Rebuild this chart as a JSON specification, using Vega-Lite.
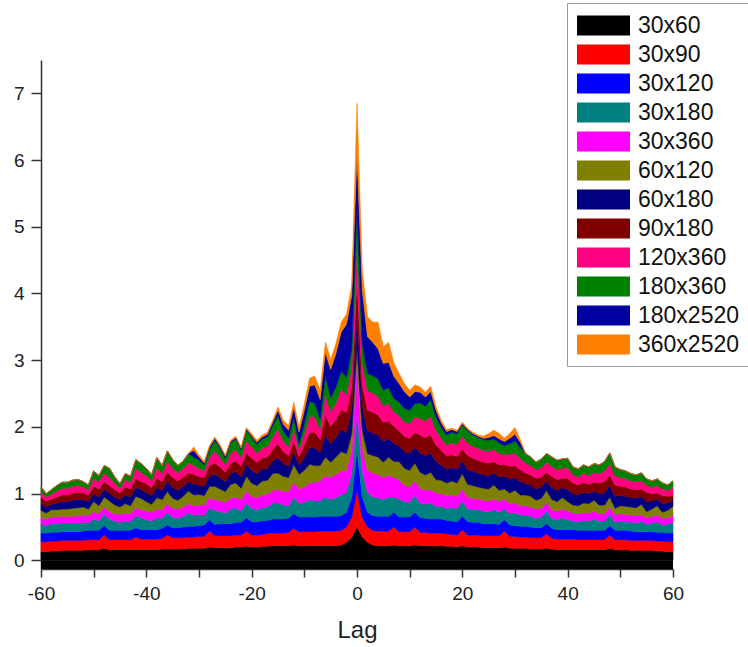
{
"$schema": "https://vega.github.io/schema/vega-lite/v6.json",
"width": 632, "height": 509,
"autosize": {"type": "none"},
"padding": {"left": 41, "top": 60, "right": 75, "bottom": 78},
"background": "white",
"config": {"view": {"stroke": null}, "font": "Liberation Sans"},
"datasets": {
"ranks": [{"series":"30x60","rank":1},{"series":"30x90","rank":2},{"series":"30x120","rank":3},{"series":"30x180","rank":4},{"series":"30x360","rank":5},{"series":"60x120","rank":6},{"series":"60x180","rank":7},{"series":"90x180","rank":8},{"series":"120x360","rank":9},{"series":"180x360","rank":10},{"series":"180x2520","rank":11},{"series":"360x2520","rank":12}],
"acf": [
{"lag":-60,"series":"30x60","value":0.13},{"lag":-59,"series":"30x60","value":0.13},{"lag":-58,"series":"30x60","value":0.14},{"lag":-57,"series":"30x60","value":0.14},{"lag":-56,"series":"30x60","value":0.15},{"lag":-55,"series":"30x60","value":0.15},{"lag":-54,"series":"30x60","value":0.15},{"lag":-53,"series":"30x60","value":0.15},{"lag":-52,"series":"30x60","value":0.15},{"lag":-51,"series":"30x60","value":0.16},{"lag":-50,"series":"30x60","value":0.16},{"lag":-49,"series":"30x60","value":0.16},{"lag":-48,"series":"30x60","value":0.18},{"lag":-47,"series":"30x60","value":0.16},{"lag":-46,"series":"30x60","value":0.16},{"lag":-45,"series":"30x60","value":0.16},{"lag":-44,"series":"30x60","value":0.16},{"lag":-43,"series":"30x60","value":0.16},{"lag":-42,"series":"30x60","value":0.16},{"lag":-41,"series":"30x60","value":0.16},{"lag":-40,"series":"30x60","value":0.16},{"lag":-39,"series":"30x60","value":0.16},{"lag":-38,"series":"30x60","value":0.16},{"lag":-37,"series":"30x60","value":0.17},{"lag":-36,"series":"30x60","value":0.17},{"lag":-35,"series":"30x60","value":0.17},{"lag":-34,"series":"30x60","value":0.17},{"lag":-33,"series":"30x60","value":0.17},{"lag":-32,"series":"30x60","value":0.18},{"lag":-31,"series":"30x60","value":0.18},{"lag":-30,"series":"30x60","value":0.18},{"lag":-29,"series":"30x60","value":0.18},{"lag":-28,"series":"30x60","value":0.2},{"lag":-27,"series":"30x60","value":0.19},{"lag":-26,"series":"30x60","value":0.19},{"lag":-25,"series":"30x60","value":0.19},{"lag":-24,"series":"30x60","value":0.19},{"lag":-23,"series":"30x60","value":0.2},{"lag":-22,"series":"30x60","value":0.2},{"lag":-21,"series":"30x60","value":0.21},{"lag":-20,"series":"30x60","value":0.2},{"lag":-19,"series":"30x60","value":0.2},{"lag":-18,"series":"30x60","value":0.21},{"lag":-17,"series":"30x60","value":0.21},{"lag":-16,"series":"30x60","value":0.22},{"lag":-15,"series":"30x60","value":0.22},{"lag":-14,"series":"30x60","value":0.22},{"lag":-13,"series":"30x60","value":0.22},{"lag":-12,"series":"30x60","value":0.23},{"lag":-11,"series":"30x60","value":0.22},{"lag":-10,"series":"30x60","value":0.22},{"lag":-9,"series":"30x60","value":0.22},{"lag":-8,"series":"30x60","value":0.22},{"lag":-7,"series":"30x60","value":0.22},{"lag":-6,"series":"30x60","value":0.22},{"lag":-5,"series":"30x60","value":0.22},{"lag":-4,"series":"30x60","value":0.22},{"lag":-3,"series":"30x60","value":0.23},{"lag":-2,"series":"30x60","value":0.27},{"lag":-1,"series":"30x60","value":0.35},{"lag":0,"series":"30x60","value":0.5},{"lag":1,"series":"30x60","value":0.35},{"lag":2,"series":"30x60","value":0.27},{"lag":3,"series":"30x60","value":0.23},{"lag":4,"series":"30x60","value":0.22},{"lag":5,"series":"30x60","value":0.22},{"lag":6,"series":"30x60","value":0.22},{"lag":7,"series":"30x60","value":0.23},{"lag":8,"series":"30x60","value":0.22},{"lag":9,"series":"30x60","value":0.22},{"lag":10,"series":"30x60","value":0.22},{"lag":11,"series":"30x60","value":0.23},{"lag":12,"series":"30x60","value":0.22},{"lag":13,"series":"30x60","value":0.22},{"lag":14,"series":"30x60","value":0.22},{"lag":15,"series":"30x60","value":0.22},{"lag":16,"series":"30x60","value":0.22},{"lag":17,"series":"30x60","value":0.21},{"lag":18,"series":"30x60","value":0.21},{"lag":19,"series":"30x60","value":0.2},{"lag":20,"series":"30x60","value":0.22},{"lag":21,"series":"30x60","value":0.2},{"lag":22,"series":"30x60","value":0.2},{"lag":23,"series":"30x60","value":0.2},{"lag":24,"series":"30x60","value":0.19},{"lag":25,"series":"30x60","value":0.19},{"lag":26,"series":"30x60","value":0.19},{"lag":27,"series":"30x60","value":0.19},{"lag":28,"series":"30x60","value":0.2},{"lag":29,"series":"30x60","value":0.18},{"lag":30,"series":"30x60","value":0.18},{"lag":31,"series":"30x60","value":0.18},{"lag":32,"series":"30x60","value":0.18},{"lag":33,"series":"30x60","value":0.17},{"lag":34,"series":"30x60","value":0.17},{"lag":35,"series":"30x60","value":0.17},{"lag":36,"series":"30x60","value":0.18},{"lag":37,"series":"30x60","value":0.17},{"lag":38,"series":"30x60","value":0.16},{"lag":39,"series":"30x60","value":0.16},{"lag":40,"series":"30x60","value":0.16},{"lag":41,"series":"30x60","value":0.16},{"lag":42,"series":"30x60","value":0.16},{"lag":43,"series":"30x60","value":0.16},{"lag":44,"series":"30x60","value":0.16},{"lag":45,"series":"30x60","value":0.16},{"lag":46,"series":"30x60","value":0.16},{"lag":47,"series":"30x60","value":0.16},{"lag":48,"series":"30x60","value":0.18},{"lag":49,"series":"30x60","value":0.16},{"lag":50,"series":"30x60","value":0.16},{"lag":51,"series":"30x60","value":0.16},{"lag":52,"series":"30x60","value":0.15},{"lag":53,"series":"30x60","value":0.15},{"lag":54,"series":"30x60","value":0.15},{"lag":55,"series":"30x60","value":0.15},{"lag":56,"series":"30x60","value":0.15},{"lag":57,"series":"30x60","value":0.14},{"lag":58,"series":"30x60","value":0.14},{"lag":59,"series":"30x60","value":0.13},{"lag":60,"series":"30x60","value":0.13},
{"lag":-60,"series":"30x90","value":0.15},{"lag":-59,"series":"30x90","value":0.15},{"lag":-58,"series":"30x90","value":0.15},{"lag":-57,"series":"30x90","value":0.15},{"lag":-56,"series":"30x90","value":0.15},{"lag":-55,"series":"30x90","value":0.15},{"lag":-54,"series":"30x90","value":0.15},{"lag":-53,"series":"30x90","value":0.15},{"lag":-52,"series":"30x90","value":0.15},{"lag":-51,"series":"30x90","value":0.15},{"lag":-50,"series":"30x90","value":0.15},{"lag":-49,"series":"30x90","value":0.15},{"lag":-48,"series":"30x90","value":0.2},{"lag":-47,"series":"30x90","value":0.15},{"lag":-46,"series":"30x90","value":0.15},{"lag":-45,"series":"30x90","value":0.15},{"lag":-44,"series":"30x90","value":0.15},{"lag":-43,"series":"30x90","value":0.15},{"lag":-42,"series":"30x90","value":0.19},{"lag":-41,"series":"30x90","value":0.16},{"lag":-40,"series":"30x90","value":0.16},{"lag":-39,"series":"30x90","value":0.16},{"lag":-38,"series":"30x90","value":0.16},{"lag":-37,"series":"30x90","value":0.16},{"lag":-36,"series":"30x90","value":0.21},{"lag":-35,"series":"30x90","value":0.17},{"lag":-34,"series":"30x90","value":0.17},{"lag":-33,"series":"30x90","value":0.17},{"lag":-32,"series":"30x90","value":0.17},{"lag":-31,"series":"30x90","value":0.17},{"lag":-30,"series":"30x90","value":0.18},{"lag":-29,"series":"30x90","value":0.18},{"lag":-28,"series":"30x90","value":0.24},{"lag":-27,"series":"30x90","value":0.18},{"lag":-26,"series":"30x90","value":0.18},{"lag":-25,"series":"30x90","value":0.18},{"lag":-24,"series":"30x90","value":0.18},{"lag":-23,"series":"30x90","value":0.18},{"lag":-22,"series":"30x90","value":0.18},{"lag":-21,"series":"30x90","value":0.23},{"lag":-20,"series":"30x90","value":0.18},{"lag":-19,"series":"30x90","value":0.18},{"lag":-18,"series":"30x90","value":0.18},{"lag":-17,"series":"30x90","value":0.19},{"lag":-16,"series":"30x90","value":0.19},{"lag":-15,"series":"30x90","value":0.19},{"lag":-14,"series":"30x90","value":0.19},{"lag":-13,"series":"30x90","value":0.2},{"lag":-12,"series":"30x90","value":0.25},{"lag":-11,"series":"30x90","value":0.21},{"lag":-10,"series":"30x90","value":0.21},{"lag":-9,"series":"30x90","value":0.21},{"lag":-8,"series":"30x90","value":0.21},{"lag":-7,"series":"30x90","value":0.22},{"lag":-6,"series":"30x90","value":0.22},{"lag":-5,"series":"30x90","value":0.22},{"lag":-4,"series":"30x90","value":0.22},{"lag":-3,"series":"30x90","value":0.22},{"lag":-2,"series":"30x90","value":0.23},{"lag":-1,"series":"30x90","value":0.3},{"lag":0,"series":"30x90","value":0.55},{"lag":1,"series":"30x90","value":0.3},{"lag":2,"series":"30x90","value":0.23},{"lag":3,"series":"30x90","value":0.22},{"lag":4,"series":"30x90","value":0.22},{"lag":5,"series":"30x90","value":0.22},{"lag":6,"series":"30x90","value":0.22},{"lag":7,"series":"30x90","value":0.27},{"lag":8,"series":"30x90","value":0.21},{"lag":9,"series":"30x90","value":0.21},{"lag":10,"series":"30x90","value":0.21},{"lag":11,"series":"30x90","value":0.27},{"lag":12,"series":"30x90","value":0.2},{"lag":13,"series":"30x90","value":0.2},{"lag":14,"series":"30x90","value":0.19},{"lag":15,"series":"30x90","value":0.19},{"lag":16,"series":"30x90","value":0.19},{"lag":17,"series":"30x90","value":0.19},{"lag":18,"series":"30x90","value":0.18},{"lag":19,"series":"30x90","value":0.18},{"lag":20,"series":"30x90","value":0.24},{"lag":21,"series":"30x90","value":0.18},{"lag":22,"series":"30x90","value":0.18},{"lag":23,"series":"30x90","value":0.18},{"lag":24,"series":"30x90","value":0.18},{"lag":25,"series":"30x90","value":0.18},{"lag":26,"series":"30x90","value":0.18},{"lag":27,"series":"30x90","value":0.18},{"lag":28,"series":"30x90","value":0.24},{"lag":29,"series":"30x90","value":0.18},{"lag":30,"series":"30x90","value":0.18},{"lag":31,"series":"30x90","value":0.17},{"lag":32,"series":"30x90","value":0.17},{"lag":33,"series":"30x90","value":0.17},{"lag":34,"series":"30x90","value":0.17},{"lag":35,"series":"30x90","value":0.17},{"lag":36,"series":"30x90","value":0.22},{"lag":37,"series":"30x90","value":0.16},{"lag":38,"series":"30x90","value":0.16},{"lag":39,"series":"30x90","value":0.16},{"lag":40,"series":"30x90","value":0.16},{"lag":41,"series":"30x90","value":0.16},{"lag":42,"series":"30x90","value":0.15},{"lag":43,"series":"30x90","value":0.15},{"lag":44,"series":"30x90","value":0.15},{"lag":45,"series":"30x90","value":0.15},{"lag":46,"series":"30x90","value":0.15},{"lag":47,"series":"30x90","value":0.15},{"lag":48,"series":"30x90","value":0.2},{"lag":49,"series":"30x90","value":0.15},{"lag":50,"series":"30x90","value":0.15},{"lag":51,"series":"30x90","value":0.15},{"lag":52,"series":"30x90","value":0.15},{"lag":53,"series":"30x90","value":0.15},{"lag":54,"series":"30x90","value":0.15},{"lag":55,"series":"30x90","value":0.15},{"lag":56,"series":"30x90","value":0.15},{"lag":57,"series":"30x90","value":0.15},{"lag":58,"series":"30x90","value":0.15},{"lag":59,"series":"30x90","value":0.15},{"lag":60,"series":"30x90","value":0.15},
{"lag":-60,"series":"30x120","value":0.13},{"lag":-59,"series":"30x120","value":0.13},{"lag":-58,"series":"30x120","value":0.13},{"lag":-57,"series":"30x120","value":0.13},{"lag":-56,"series":"30x120","value":0.13},{"lag":-55,"series":"30x120","value":0.13},{"lag":-54,"series":"30x120","value":0.13},{"lag":-53,"series":"30x120","value":0.13},{"lag":-52,"series":"30x120","value":0.14},{"lag":-51,"series":"30x120","value":0.14},{"lag":-50,"series":"30x120","value":0.14},{"lag":-49,"series":"30x120","value":0.14},{"lag":-48,"series":"30x120","value":0.14},{"lag":-47,"series":"30x120","value":0.14},{"lag":-46,"series":"30x120","value":0.14},{"lag":-45,"series":"30x120","value":0.14},{"lag":-44,"series":"30x120","value":0.14},{"lag":-43,"series":"30x120","value":0.14},{"lag":-42,"series":"30x120","value":0.14},{"lag":-41,"series":"30x120","value":0.14},{"lag":-40,"series":"30x120","value":0.14},{"lag":-39,"series":"30x120","value":0.14},{"lag":-38,"series":"30x120","value":0.14},{"lag":-37,"series":"30x120","value":0.15},{"lag":-36,"series":"30x120","value":0.15},{"lag":-35,"series":"30x120","value":0.15},{"lag":-34,"series":"30x120","value":0.15},{"lag":-33,"series":"30x120","value":0.16},{"lag":-32,"series":"30x120","value":0.16},{"lag":-31,"series":"30x120","value":0.16},{"lag":-30,"series":"30x120","value":0.16},{"lag":-29,"series":"30x120","value":0.17},{"lag":-28,"series":"30x120","value":0.17},{"lag":-27,"series":"30x120","value":0.17},{"lag":-26,"series":"30x120","value":0.18},{"lag":-25,"series":"30x120","value":0.18},{"lag":-24,"series":"30x120","value":0.18},{"lag":-23,"series":"30x120","value":0.19},{"lag":-22,"series":"30x120","value":0.19},{"lag":-21,"series":"30x120","value":0.2},{"lag":-20,"series":"30x120","value":0.2},{"lag":-19,"series":"30x120","value":0.2},{"lag":-18,"series":"30x120","value":0.2},{"lag":-17,"series":"30x120","value":0.2},{"lag":-16,"series":"30x120","value":0.21},{"lag":-15,"series":"30x120","value":0.21},{"lag":-14,"series":"30x120","value":0.21},{"lag":-13,"series":"30x120","value":0.21},{"lag":-12,"series":"30x120","value":0.22},{"lag":-11,"series":"30x120","value":0.22},{"lag":-10,"series":"30x120","value":0.22},{"lag":-9,"series":"30x120","value":0.22},{"lag":-8,"series":"30x120","value":0.22},{"lag":-7,"series":"30x120","value":0.22},{"lag":-6,"series":"30x120","value":0.22},{"lag":-5,"series":"30x120","value":0.22},{"lag":-4,"series":"30x120","value":0.22},{"lag":-3,"series":"30x120","value":0.22},{"lag":-2,"series":"30x120","value":0.22},{"lag":-1,"series":"30x120","value":0.3},{"lag":0,"series":"30x120","value":0.6},{"lag":1,"series":"30x120","value":0.3},{"lag":2,"series":"30x120","value":0.22},{"lag":3,"series":"30x120","value":0.22},{"lag":4,"series":"30x120","value":0.22},{"lag":5,"series":"30x120","value":0.22},{"lag":6,"series":"30x120","value":0.22},{"lag":7,"series":"30x120","value":0.22},{"lag":8,"series":"30x120","value":0.22},{"lag":9,"series":"30x120","value":0.22},{"lag":10,"series":"30x120","value":0.22},{"lag":11,"series":"30x120","value":0.22},{"lag":12,"series":"30x120","value":0.22},{"lag":13,"series":"30x120","value":0.21},{"lag":14,"series":"30x120","value":0.21},{"lag":15,"series":"30x120","value":0.21},{"lag":16,"series":"30x120","value":0.21},{"lag":17,"series":"30x120","value":0.2},{"lag":18,"series":"30x120","value":0.2},{"lag":19,"series":"30x120","value":0.2},{"lag":20,"series":"30x120","value":0.2},{"lag":21,"series":"30x120","value":0.2},{"lag":22,"series":"30x120","value":0.19},{"lag":23,"series":"30x120","value":0.19},{"lag":24,"series":"30x120","value":0.18},{"lag":25,"series":"30x120","value":0.18},{"lag":26,"series":"30x120","value":0.18},{"lag":27,"series":"30x120","value":0.17},{"lag":28,"series":"30x120","value":0.17},{"lag":29,"series":"30x120","value":0.17},{"lag":30,"series":"30x120","value":0.16},{"lag":31,"series":"30x120","value":0.16},{"lag":32,"series":"30x120","value":0.16},{"lag":33,"series":"30x120","value":0.16},{"lag":34,"series":"30x120","value":0.15},{"lag":35,"series":"30x120","value":0.15},{"lag":36,"series":"30x120","value":0.15},{"lag":37,"series":"30x120","value":0.15},{"lag":38,"series":"30x120","value":0.14},{"lag":39,"series":"30x120","value":0.14},{"lag":40,"series":"30x120","value":0.14},{"lag":41,"series":"30x120","value":0.14},{"lag":42,"series":"30x120","value":0.14},{"lag":43,"series":"30x120","value":0.14},{"lag":44,"series":"30x120","value":0.14},{"lag":45,"series":"30x120","value":0.14},{"lag":46,"series":"30x120","value":0.14},{"lag":47,"series":"30x120","value":0.14},{"lag":48,"series":"30x120","value":0.14},{"lag":49,"series":"30x120","value":0.14},{"lag":50,"series":"30x120","value":0.14},{"lag":51,"series":"30x120","value":0.14},{"lag":52,"series":"30x120","value":0.14},{"lag":53,"series":"30x120","value":0.13},{"lag":54,"series":"30x120","value":0.13},{"lag":55,"series":"30x120","value":0.13},{"lag":56,"series":"30x120","value":0.13},{"lag":57,"series":"30x120","value":0.13},{"lag":58,"series":"30x120","value":0.13},{"lag":59,"series":"30x120","value":0.13},{"lag":60,"series":"30x120","value":0.13},
{"lag":-60,"series":"30x180","value":0.13},{"lag":-59,"series":"30x180","value":0.11},{"lag":-58,"series":"30x180","value":0.13},{"lag":-57,"series":"30x180","value":0.13},{"lag":-56,"series":"30x180","value":0.13},{"lag":-55,"series":"30x180","value":0.13},{"lag":-54,"series":"30x180","value":0.13},{"lag":-53,"series":"30x180","value":0.13},{"lag":-52,"series":"30x180","value":0.13},{"lag":-51,"series":"30x180","value":0.11},{"lag":-50,"series":"30x180","value":0.17},{"lag":-49,"series":"30x180","value":0.14},{"lag":-48,"series":"30x180","value":0.17},{"lag":-47,"series":"30x180","value":0.17},{"lag":-46,"series":"30x180","value":0.14},{"lag":-45,"series":"30x180","value":0.12},{"lag":-44,"series":"30x180","value":0.14},{"lag":-43,"series":"30x180","value":0.13},{"lag":-42,"series":"30x180","value":0.18},{"lag":-41,"series":"30x180","value":0.18},{"lag":-40,"series":"30x180","value":0.15},{"lag":-39,"series":"30x180","value":0.13},{"lag":-38,"series":"30x180","value":0.18},{"lag":-37,"series":"30x180","value":0.15},{"lag":-36,"series":"30x180","value":0.19},{"lag":-35,"series":"30x180","value":0.16},{"lag":-34,"series":"30x180","value":0.14},{"lag":-33,"series":"30x180","value":0.16},{"lag":-32,"series":"30x180","value":0.2},{"lag":-31,"series":"30x180","value":0.17},{"lag":-30,"series":"30x180","value":0.17},{"lag":-29,"series":"30x180","value":0.15},{"lag":-28,"series":"30x180","value":0.18},{"lag":-27,"series":"30x180","value":0.21},{"lag":-26,"series":"30x180","value":0.18},{"lag":-25,"series":"30x180","value":0.16},{"lag":-24,"series":"30x180","value":0.22},{"lag":-23,"series":"30x180","value":0.22},{"lag":-22,"series":"30x180","value":0.17},{"lag":-21,"series":"30x180","value":0.22},{"lag":-20,"series":"30x180","value":0.2},{"lag":-19,"series":"30x180","value":0.18},{"lag":-18,"series":"30x180","value":0.2},{"lag":-17,"series":"30x180","value":0.2},{"lag":-16,"series":"30x180","value":0.24},{"lag":-15,"series":"30x180","value":0.24},{"lag":-14,"series":"30x180","value":0.21},{"lag":-13,"series":"30x180","value":0.19},{"lag":-12,"series":"30x180","value":0.25},{"lag":-11,"series":"30x180","value":0.2},{"lag":-10,"series":"30x180","value":0.22},{"lag":-9,"series":"30x180","value":0.26},{"lag":-8,"series":"30x180","value":0.24},{"lag":-7,"series":"30x180","value":0.23},{"lag":-6,"series":"30x180","value":0.29},{"lag":-5,"series":"30x180","value":0.25},{"lag":-4,"series":"30x180","value":0.28},{"lag":-3,"series":"30x180","value":0.31},{"lag":-2,"series":"30x180","value":0.3},{"lag":-1,"series":"30x180","value":0.35},{"lag":0,"series":"30x180","value":0.55},{"lag":1,"series":"30x180","value":0.38},{"lag":2,"series":"30x180","value":0.3},{"lag":3,"series":"30x180","value":0.28},{"lag":4,"series":"30x180","value":0.28},{"lag":5,"series":"30x180","value":0.25},{"lag":6,"series":"30x180","value":0.29},{"lag":7,"series":"30x180","value":0.23},{"lag":8,"series":"30x180","value":0.27},{"lag":9,"series":"30x180","value":0.23},{"lag":10,"series":"30x180","value":0.22},{"lag":11,"series":"30x180","value":0.25},{"lag":12,"series":"30x180","value":0.22},{"lag":13,"series":"30x180","value":0.21},{"lag":14,"series":"30x180","value":0.24},{"lag":15,"series":"30x180","value":0.19},{"lag":16,"series":"30x180","value":0.19},{"lag":17,"series":"30x180","value":0.18},{"lag":18,"series":"30x180","value":0.2},{"lag":19,"series":"30x180","value":0.2},{"lag":20,"series":"30x180","value":0.23},{"lag":21,"series":"30x180","value":0.19},{"lag":22,"series":"30x180","value":0.19},{"lag":23,"series":"30x180","value":0.19},{"lag":24,"series":"30x180","value":0.19},{"lag":25,"series":"30x180","value":0.18},{"lag":26,"series":"30x180","value":0.21},{"lag":27,"series":"30x180","value":0.18},{"lag":28,"series":"30x180","value":0.16},{"lag":29,"series":"30x180","value":0.17},{"lag":30,"series":"30x180","value":0.2},{"lag":31,"series":"30x180","value":0.17},{"lag":32,"series":"30x180","value":0.17},{"lag":33,"series":"30x180","value":0.16},{"lag":34,"series":"30x180","value":0.14},{"lag":35,"series":"30x180","value":0.16},{"lag":36,"series":"30x180","value":0.19},{"lag":37,"series":"30x180","value":0.15},{"lag":38,"series":"30x180","value":0.15},{"lag":39,"series":"30x180","value":0.18},{"lag":40,"series":"30x180","value":0.15},{"lag":41,"series":"30x180","value":0.13},{"lag":42,"series":"30x180","value":0.13},{"lag":43,"series":"30x180","value":0.15},{"lag":44,"series":"30x180","value":0.14},{"lag":45,"series":"30x180","value":0.17},{"lag":46,"series":"30x180","value":0.14},{"lag":47,"series":"30x180","value":0.14},{"lag":48,"series":"30x180","value":0.17},{"lag":49,"series":"30x180","value":0.12},{"lag":50,"series":"30x180","value":0.14},{"lag":51,"series":"30x180","value":0.13},{"lag":52,"series":"30x180","value":0.13},{"lag":53,"series":"30x180","value":0.13},{"lag":54,"series":"30x180","value":0.16},{"lag":55,"series":"30x180","value":0.11},{"lag":56,"series":"30x180","value":0.13},{"lag":57,"series":"30x180","value":0.16},{"lag":58,"series":"30x180","value":0.11},{"lag":59,"series":"30x180","value":0.13},{"lag":60,"series":"30x180","value":0.16},
{"lag":-60,"series":"30x360","value":0.1},{"lag":-59,"series":"30x360","value":0.1},{"lag":-58,"series":"30x360","value":0.1},{"lag":-57,"series":"30x360","value":0.1},{"lag":-56,"series":"30x360","value":0.1},{"lag":-55,"series":"30x360","value":0.1},{"lag":-54,"series":"30x360","value":0.1},{"lag":-53,"series":"30x360","value":0.11},{"lag":-52,"series":"30x360","value":0.11},{"lag":-51,"series":"30x360","value":0.11},{"lag":-50,"series":"30x360","value":0.11},{"lag":-49,"series":"30x360","value":0.11},{"lag":-48,"series":"30x360","value":0.11},{"lag":-47,"series":"30x360","value":0.11},{"lag":-46,"series":"30x360","value":0.11},{"lag":-45,"series":"30x360","value":0.12},{"lag":-44,"series":"30x360","value":0.12},{"lag":-43,"series":"30x360","value":0.12},{"lag":-42,"series":"30x360","value":0.12},{"lag":-41,"series":"30x360","value":0.12},{"lag":-40,"series":"30x360","value":0.13},{"lag":-39,"series":"30x360","value":0.13},{"lag":-38,"series":"30x360","value":0.13},{"lag":-37,"series":"30x360","value":0.13},{"lag":-36,"series":"30x360","value":0.13},{"lag":-35,"series":"30x360","value":0.13},{"lag":-34,"series":"30x360","value":0.14},{"lag":-33,"series":"30x360","value":0.14},{"lag":-32,"series":"30x360","value":0.14},{"lag":-31,"series":"30x360","value":0.14},{"lag":-30,"series":"30x360","value":0.14},{"lag":-29,"series":"30x360","value":0.15},{"lag":-28,"series":"30x360","value":0.15},{"lag":-27,"series":"30x360","value":0.16},{"lag":-26,"series":"30x360","value":0.16},{"lag":-25,"series":"30x360","value":0.16},{"lag":-24,"series":"30x360","value":0.16},{"lag":-23,"series":"30x360","value":0.16},{"lag":-22,"series":"30x360","value":0.17},{"lag":-21,"series":"30x360","value":0.18},{"lag":-20,"series":"30x360","value":0.18},{"lag":-19,"series":"30x360","value":0.18},{"lag":-18,"series":"30x360","value":0.19},{"lag":-17,"series":"30x360","value":0.19},{"lag":-16,"series":"30x360","value":0.19},{"lag":-15,"series":"30x360","value":0.2},{"lag":-14,"series":"30x360","value":0.2},{"lag":-13,"series":"30x360","value":0.21},{"lag":-12,"series":"30x360","value":0.22},{"lag":-11,"series":"30x360","value":0.22},{"lag":-10,"series":"30x360","value":0.23},{"lag":-9,"series":"30x360","value":0.25},{"lag":-8,"series":"30x360","value":0.28},{"lag":-7,"series":"30x360","value":0.3},{"lag":-6,"series":"30x360","value":0.32},{"lag":-5,"series":"30x360","value":0.33},{"lag":-4,"series":"30x360","value":0.35},{"lag":-3,"series":"30x360","value":0.36},{"lag":-2,"series":"30x360","value":0.33},{"lag":-1,"series":"30x360","value":0.35},{"lag":0,"series":"30x360","value":0.8},{"lag":1,"series":"30x360","value":0.35},{"lag":2,"series":"30x360","value":0.33},{"lag":3,"series":"30x360","value":0.36},{"lag":4,"series":"30x360","value":0.35},{"lag":5,"series":"30x360","value":0.33},{"lag":6,"series":"30x360","value":0.32},{"lag":7,"series":"30x360","value":0.3},{"lag":8,"series":"30x360","value":0.28},{"lag":9,"series":"30x360","value":0.25},{"lag":10,"series":"30x360","value":0.23},{"lag":11,"series":"30x360","value":0.22},{"lag":12,"series":"30x360","value":0.22},{"lag":13,"series":"30x360","value":0.21},{"lag":14,"series":"30x360","value":0.2},{"lag":15,"series":"30x360","value":0.2},{"lag":16,"series":"30x360","value":0.19},{"lag":17,"series":"30x360","value":0.19},{"lag":18,"series":"30x360","value":0.19},{"lag":19,"series":"30x360","value":0.18},{"lag":20,"series":"30x360","value":0.18},{"lag":21,"series":"30x360","value":0.18},{"lag":22,"series":"30x360","value":0.17},{"lag":23,"series":"30x360","value":0.16},{"lag":24,"series":"30x360","value":0.16},{"lag":25,"series":"30x360","value":0.16},{"lag":26,"series":"30x360","value":0.16},{"lag":27,"series":"30x360","value":0.16},{"lag":28,"series":"30x360","value":0.15},{"lag":29,"series":"30x360","value":0.15},{"lag":30,"series":"30x360","value":0.14},{"lag":31,"series":"30x360","value":0.14},{"lag":32,"series":"30x360","value":0.14},{"lag":33,"series":"30x360","value":0.14},{"lag":34,"series":"30x360","value":0.14},{"lag":35,"series":"30x360","value":0.13},{"lag":36,"series":"30x360","value":0.13},{"lag":37,"series":"30x360","value":0.13},{"lag":38,"series":"30x360","value":0.13},{"lag":39,"series":"30x360","value":0.13},{"lag":40,"series":"30x360","value":0.13},{"lag":41,"series":"30x360","value":0.12},{"lag":42,"series":"30x360","value":0.12},{"lag":43,"series":"30x360","value":0.12},{"lag":44,"series":"30x360","value":0.12},{"lag":45,"series":"30x360","value":0.12},{"lag":46,"series":"30x360","value":0.11},{"lag":47,"series":"30x360","value":0.11},{"lag":48,"series":"30x360","value":0.11},{"lag":49,"series":"30x360","value":0.11},{"lag":50,"series":"30x360","value":0.11},{"lag":51,"series":"30x360","value":0.11},{"lag":52,"series":"30x360","value":0.11},{"lag":53,"series":"30x360","value":0.11},{"lag":54,"series":"30x360","value":0.1},{"lag":55,"series":"30x360","value":0.1},{"lag":56,"series":"30x360","value":0.1},{"lag":57,"series":"30x360","value":0.1},{"lag":58,"series":"30x360","value":0.1},{"lag":59,"series":"30x360","value":0.1},{"lag":60,"series":"30x360","value":0.1},
{"lag":-60,"series":"60x120","value":0.11},{"lag":-59,"series":"60x120","value":0.09},{"lag":-58,"series":"60x120","value":0.11},{"lag":-57,"series":"60x120","value":0.11},{"lag":-56,"series":"60x120","value":0.11},{"lag":-55,"series":"60x120","value":0.11},{"lag":-54,"series":"60x120","value":0.12},{"lag":-53,"series":"60x120","value":0.12},{"lag":-52,"series":"60x120","value":0.12},{"lag":-51,"series":"60x120","value":0.1},{"lag":-50,"series":"60x120","value":0.15},{"lag":-49,"series":"60x120","value":0.12},{"lag":-48,"series":"60x120","value":0.15},{"lag":-47,"series":"60x120","value":0.16},{"lag":-46,"series":"60x120","value":0.13},{"lag":-45,"series":"60x120","value":0.11},{"lag":-44,"series":"60x120","value":0.14},{"lag":-43,"series":"60x120","value":0.12},{"lag":-42,"series":"60x120","value":0.17},{"lag":-41,"series":"60x120","value":0.17},{"lag":-40,"series":"60x120","value":0.14},{"lag":-39,"series":"60x120","value":0.12},{"lag":-38,"series":"60x120","value":0.17},{"lag":-37,"series":"60x120","value":0.15},{"lag":-36,"series":"60x120","value":0.18},{"lag":-35,"series":"60x120","value":0.15},{"lag":-34,"series":"60x120","value":0.13},{"lag":-33,"series":"60x120","value":0.16},{"lag":-32,"series":"60x120","value":0.19},{"lag":-31,"series":"60x120","value":0.16},{"lag":-30,"series":"60x120","value":0.16},{"lag":-29,"series":"60x120","value":0.14},{"lag":-28,"series":"60x120","value":0.17},{"lag":-27,"series":"60x120","value":0.2},{"lag":-26,"series":"60x120","value":0.18},{"lag":-25,"series":"60x120","value":0.16},{"lag":-24,"series":"60x120","value":0.21},{"lag":-23,"series":"60x120","value":0.21},{"lag":-22,"series":"60x120","value":0.17},{"lag":-21,"series":"60x120","value":0.22},{"lag":-20,"series":"60x120","value":0.2},{"lag":-19,"series":"60x120","value":0.18},{"lag":-18,"series":"60x120","value":0.21},{"lag":-17,"series":"60x120","value":0.21},{"lag":-16,"series":"60x120","value":0.25},{"lag":-15,"series":"60x120","value":0.25},{"lag":-14,"series":"60x120","value":0.23},{"lag":-13,"series":"60x120","value":0.21},{"lag":-12,"series":"60x120","value":0.27},{"lag":-11,"series":"60x120","value":0.22},{"lag":-10,"series":"60x120","value":0.25},{"lag":-9,"series":"60x120","value":0.28},{"lag":-8,"series":"60x120","value":0.25},{"lag":-7,"series":"60x120","value":0.23},{"lag":-6,"series":"60x120","value":0.28},{"lag":-5,"series":"60x120","value":0.23},{"lag":-4,"series":"60x120","value":0.26},{"lag":-3,"series":"60x120","value":0.29},{"lag":-2,"series":"60x120","value":0.25},{"lag":-1,"series":"60x120","value":0.25},{"lag":0,"series":"60x120","value":0.2},{"lag":1,"series":"60x120","value":0.28},{"lag":2,"series":"60x120","value":0.25},{"lag":3,"series":"60x120","value":0.26},{"lag":4,"series":"60x120","value":0.26},{"lag":5,"series":"60x120","value":0.23},{"lag":6,"series":"60x120","value":0.28},{"lag":7,"series":"60x120","value":0.23},{"lag":8,"series":"60x120","value":0.28},{"lag":9,"series":"60x120","value":0.25},{"lag":10,"series":"60x120","value":0.25},{"lag":11,"series":"60x120","value":0.27},{"lag":12,"series":"60x120","value":0.24},{"lag":13,"series":"60x120","value":0.23},{"lag":14,"series":"60x120","value":0.26},{"lag":15,"series":"60x120","value":0.2},{"lag":16,"series":"60x120","value":0.2},{"lag":17,"series":"60x120","value":0.19},{"lag":18,"series":"60x120","value":0.21},{"lag":19,"series":"60x120","value":0.2},{"lag":20,"series":"60x120","value":0.23},{"lag":21,"series":"60x120","value":0.19},{"lag":22,"series":"60x120","value":0.19},{"lag":23,"series":"60x120","value":0.18},{"lag":24,"series":"60x120","value":0.18},{"lag":25,"series":"60x120","value":0.18},{"lag":26,"series":"60x120","value":0.21},{"lag":27,"series":"60x120","value":0.17},{"lag":28,"series":"60x120","value":0.15},{"lag":29,"series":"60x120","value":0.16},{"lag":30,"series":"60x120","value":0.19},{"lag":31,"series":"60x120","value":0.16},{"lag":32,"series":"60x120","value":0.16},{"lag":33,"series":"60x120","value":0.16},{"lag":34,"series":"60x120","value":0.13},{"lag":35,"series":"60x120","value":0.15},{"lag":36,"series":"60x120","value":0.18},{"lag":37,"series":"60x120","value":0.15},{"lag":38,"series":"60x120","value":0.14},{"lag":39,"series":"60x120","value":0.17},{"lag":40,"series":"60x120","value":0.14},{"lag":41,"series":"60x120","value":0.12},{"lag":42,"series":"60x120","value":0.12},{"lag":43,"series":"60x120","value":0.14},{"lag":44,"series":"60x120","value":0.14},{"lag":45,"series":"60x120","value":0.16},{"lag":46,"series":"60x120","value":0.13},{"lag":47,"series":"60x120","value":0.13},{"lag":48,"series":"60x120","value":0.15},{"lag":49,"series":"60x120","value":0.1},{"lag":50,"series":"60x120","value":0.12},{"lag":51,"series":"60x120","value":0.12},{"lag":52,"series":"60x120","value":0.12},{"lag":53,"series":"60x120","value":0.12},{"lag":54,"series":"60x120","value":0.15},{"lag":55,"series":"60x120","value":0.09},{"lag":56,"series":"60x120","value":0.11},{"lag":57,"series":"60x120","value":0.14},{"lag":58,"series":"60x120","value":0.09},{"lag":59,"series":"60x120","value":0.11},{"lag":60,"series":"60x120","value":0.14},
{"lag":-60,"series":"60x180","value":0.1},{"lag":-59,"series":"60x180","value":0.09},{"lag":-58,"series":"60x180","value":0.08},{"lag":-57,"series":"60x180","value":0.1},{"lag":-56,"series":"60x180","value":0.11},{"lag":-55,"series":"60x180","value":0.11},{"lag":-54,"series":"60x180","value":0.12},{"lag":-53,"series":"60x180","value":0.12},{"lag":-52,"series":"60x180","value":0.11},{"lag":-51,"series":"60x180","value":0.11},{"lag":-50,"series":"60x180","value":0.12},{"lag":-49,"series":"60x180","value":0.13},{"lag":-48,"series":"60x180","value":0.12},{"lag":-47,"series":"60x180","value":0.12},{"lag":-46,"series":"60x180","value":0.12},{"lag":-45,"series":"60x180","value":0.11},{"lag":-44,"series":"60x180","value":0.13},{"lag":-43,"series":"60x180","value":0.13},{"lag":-42,"series":"60x180","value":0.14},{"lag":-41,"series":"60x180","value":0.13},{"lag":-40,"series":"60x180","value":0.14},{"lag":-39,"series":"60x180","value":0.13},{"lag":-38,"series":"60x180","value":0.15},{"lag":-37,"series":"60x180","value":0.14},{"lag":-36,"series":"60x180","value":0.16},{"lag":-35,"series":"60x180","value":0.16},{"lag":-34,"series":"60x180","value":0.15},{"lag":-33,"series":"60x180","value":0.15},{"lag":-32,"series":"60x180","value":0.14},{"lag":-31,"series":"60x180","value":0.16},{"lag":-30,"series":"60x180","value":0.14},{"lag":-29,"series":"60x180","value":0.14},{"lag":-28,"series":"60x180","value":0.16},{"lag":-27,"series":"60x180","value":0.18},{"lag":-26,"series":"60x180","value":0.17},{"lag":-25,"series":"60x180","value":0.15},{"lag":-24,"series":"60x180","value":0.16},{"lag":-23,"series":"60x180","value":0.17},{"lag":-22,"series":"60x180","value":0.17},{"lag":-21,"series":"60x180","value":0.18},{"lag":-20,"series":"60x180","value":0.19},{"lag":-19,"series":"60x180","value":0.18},{"lag":-18,"series":"60x180","value":0.18},{"lag":-17,"series":"60x180","value":0.18},{"lag":-16,"series":"60x180","value":0.19},{"lag":-15,"series":"60x180","value":0.23},{"lag":-14,"series":"60x180","value":0.19},{"lag":-13,"series":"60x180","value":0.17},{"lag":-12,"series":"60x180","value":0.18},{"lag":-11,"series":"60x180","value":0.14},{"lag":-10,"series":"60x180","value":0.2},{"lag":-9,"series":"60x180","value":0.25},{"lag":-8,"series":"60x180","value":0.26},{"lag":-7,"series":"60x180","value":0.2},{"lag":-6,"series":"60x180","value":0.33},{"lag":-5,"series":"60x180","value":0.28},{"lag":-4,"series":"60x180","value":0.29},{"lag":-3,"series":"60x180","value":0.33},{"lag":-2,"series":"60x180","value":0.32},{"lag":-1,"series":"60x180","value":0.36},{"lag":0,"series":"60x180","value":0.5},{"lag":1,"series":"60x180","value":0.35},{"lag":2,"series":"60x180","value":0.34},{"lag":3,"series":"60x180","value":0.34},{"lag":4,"series":"60x180","value":0.33},{"lag":5,"series":"60x180","value":0.31},{"lag":6,"series":"60x180","value":0.28},{"lag":7,"series":"60x180","value":0.27},{"lag":8,"series":"60x180","value":0.24},{"lag":9,"series":"60x180","value":0.25},{"lag":10,"series":"60x180","value":0.25},{"lag":11,"series":"60x180","value":0.24},{"lag":12,"series":"60x180","value":0.29},{"lag":13,"series":"60x180","value":0.29},{"lag":14,"series":"60x180","value":0.29},{"lag":15,"series":"60x180","value":0.27},{"lag":16,"series":"60x180","value":0.23},{"lag":17,"series":"60x180","value":0.21},{"lag":18,"series":"60x180","value":0.2},{"lag":19,"series":"60x180","value":0.21},{"lag":20,"series":"60x180","value":0.19},{"lag":21,"series":"60x180","value":0.22},{"lag":22,"series":"60x180","value":0.21},{"lag":23,"series":"60x180","value":0.21},{"lag":24,"series":"60x180","value":0.2},{"lag":25,"series":"60x180","value":0.2},{"lag":26,"series":"60x180","value":0.18},{"lag":27,"series":"60x180","value":0.2},{"lag":28,"series":"60x180","value":0.19},{"lag":29,"series":"60x180","value":0.21},{"lag":30,"series":"60x180","value":0.19},{"lag":31,"series":"60x180","value":0.2},{"lag":32,"series":"60x180","value":0.17},{"lag":33,"series":"60x180","value":0.17},{"lag":34,"series":"60x180","value":0.17},{"lag":35,"series":"60x180","value":0.17},{"lag":36,"series":"60x180","value":0.14},{"lag":37,"series":"60x180","value":0.18},{"lag":38,"series":"60x180","value":0.17},{"lag":39,"series":"60x180","value":0.15},{"lag":40,"series":"60x180","value":0.18},{"lag":41,"series":"60x180","value":0.17},{"lag":42,"series":"60x180","value":0.16},{"lag":43,"series":"60x180","value":0.16},{"lag":44,"series":"60x180","value":0.15},{"lag":45,"series":"60x180","value":0.14},{"lag":46,"series":"60x180","value":0.17},{"lag":47,"series":"60x180","value":0.18},{"lag":48,"series":"60x180","value":0.17},{"lag":49,"series":"60x180","value":0.18},{"lag":50,"series":"60x180","value":0.15},{"lag":51,"series":"60x180","value":0.15},{"lag":52,"series":"60x180","value":0.14},{"lag":53,"series":"60x180","value":0.14},{"lag":54,"series":"60x180","value":0.12},{"lag":55,"series":"60x180","value":0.15},{"lag":56,"series":"60x180","value":0.12},{"lag":57,"series":"60x180","value":0.1},{"lag":58,"series":"60x180","value":0.13},{"lag":59,"series":"60x180","value":0.11},{"lag":60,"series":"60x180","value":0.09},
{"lag":-60,"series":"90x180","value":0.09},{"lag":-59,"series":"90x180","value":0.09},{"lag":-58,"series":"90x180","value":0.08},{"lag":-57,"series":"90x180","value":0.09},{"lag":-56,"series":"90x180","value":0.1},{"lag":-55,"series":"90x180","value":0.1},{"lag":-54,"series":"90x180","value":0.11},{"lag":-53,"series":"90x180","value":0.11},{"lag":-52,"series":"90x180","value":0.1},{"lag":-51,"series":"90x180","value":0.1},{"lag":-50,"series":"90x180","value":0.11},{"lag":-49,"series":"90x180","value":0.12},{"lag":-48,"series":"90x180","value":0.11},{"lag":-47,"series":"90x180","value":0.11},{"lag":-46,"series":"90x180","value":0.11},{"lag":-45,"series":"90x180","value":0.1},{"lag":-44,"series":"90x180","value":0.12},{"lag":-43,"series":"90x180","value":0.12},{"lag":-42,"series":"90x180","value":0.13},{"lag":-41,"series":"90x180","value":0.12},{"lag":-40,"series":"90x180","value":0.13},{"lag":-39,"series":"90x180","value":0.12},{"lag":-38,"series":"90x180","value":0.14},{"lag":-37,"series":"90x180","value":0.13},{"lag":-36,"series":"90x180","value":0.14},{"lag":-35,"series":"90x180","value":0.15},{"lag":-34,"series":"90x180","value":0.14},{"lag":-33,"series":"90x180","value":0.14},{"lag":-32,"series":"90x180","value":0.13},{"lag":-31,"series":"90x180","value":0.15},{"lag":-30,"series":"90x180","value":0.13},{"lag":-29,"series":"90x180","value":0.13},{"lag":-28,"series":"90x180","value":0.15},{"lag":-27,"series":"90x180","value":0.17},{"lag":-26,"series":"90x180","value":0.16},{"lag":-25,"series":"90x180","value":0.14},{"lag":-24,"series":"90x180","value":0.15},{"lag":-23,"series":"90x180","value":0.16},{"lag":-22,"series":"90x180","value":0.16},{"lag":-21,"series":"90x180","value":0.17},{"lag":-20,"series":"90x180","value":0.18},{"lag":-19,"series":"90x180","value":0.17},{"lag":-18,"series":"90x180","value":0.16},{"lag":-17,"series":"90x180","value":0.17},{"lag":-16,"series":"90x180","value":0.17},{"lag":-15,"series":"90x180","value":0.21},{"lag":-14,"series":"90x180","value":0.18},{"lag":-13,"series":"90x180","value":0.16},{"lag":-12,"series":"90x180","value":0.17},{"lag":-11,"series":"90x180","value":0.13},{"lag":-10,"series":"90x180","value":0.18},{"lag":-9,"series":"90x180","value":0.23},{"lag":-8,"series":"90x180","value":0.24},{"lag":-7,"series":"90x180","value":0.19},{"lag":-6,"series":"90x180","value":0.3},{"lag":-5,"series":"90x180","value":0.26},{"lag":-4,"series":"90x180","value":0.27},{"lag":-3,"series":"90x180","value":0.3},{"lag":-2,"series":"90x180","value":0.3},{"lag":-1,"series":"90x180","value":0.33},{"lag":0,"series":"90x180","value":0.5},{"lag":1,"series":"90x180","value":0.32},{"lag":2,"series":"90x180","value":0.31},{"lag":3,"series":"90x180","value":0.31},{"lag":4,"series":"90x180","value":0.3},{"lag":5,"series":"90x180","value":0.29},{"lag":6,"series":"90x180","value":0.26},{"lag":7,"series":"90x180","value":0.26},{"lag":8,"series":"90x180","value":0.22},{"lag":9,"series":"90x180","value":0.23},{"lag":10,"series":"90x180","value":0.23},{"lag":11,"series":"90x180","value":0.22},{"lag":12,"series":"90x180","value":0.27},{"lag":13,"series":"90x180","value":0.27},{"lag":14,"series":"90x180","value":0.27},{"lag":15,"series":"90x180","value":0.25},{"lag":16,"series":"90x180","value":0.22},{"lag":17,"series":"90x180","value":0.2},{"lag":18,"series":"90x180","value":0.19},{"lag":19,"series":"90x180","value":0.19},{"lag":20,"series":"90x180","value":0.18},{"lag":21,"series":"90x180","value":0.21},{"lag":22,"series":"90x180","value":0.2},{"lag":23,"series":"90x180","value":0.19},{"lag":24,"series":"90x180","value":0.19},{"lag":25,"series":"90x180","value":0.19},{"lag":26,"series":"90x180","value":0.17},{"lag":27,"series":"90x180","value":0.18},{"lag":28,"series":"90x180","value":0.18},{"lag":29,"series":"90x180","value":0.19},{"lag":30,"series":"90x180","value":0.18},{"lag":31,"series":"90x180","value":0.18},{"lag":32,"series":"90x180","value":0.16},{"lag":33,"series":"90x180","value":0.15},{"lag":34,"series":"90x180","value":0.16},{"lag":35,"series":"90x180","value":0.15},{"lag":36,"series":"90x180","value":0.13},{"lag":37,"series":"90x180","value":0.17},{"lag":38,"series":"90x180","value":0.16},{"lag":39,"series":"90x180","value":0.14},{"lag":40,"series":"90x180","value":0.17},{"lag":41,"series":"90x180","value":0.16},{"lag":42,"series":"90x180","value":0.15},{"lag":43,"series":"90x180","value":0.15},{"lag":44,"series":"90x180","value":0.14},{"lag":45,"series":"90x180","value":0.13},{"lag":46,"series":"90x180","value":0.16},{"lag":47,"series":"90x180","value":0.17},{"lag":48,"series":"90x180","value":0.16},{"lag":49,"series":"90x180","value":0.17},{"lag":50,"series":"90x180","value":0.14},{"lag":51,"series":"90x180","value":0.14},{"lag":52,"series":"90x180","value":0.13},{"lag":53,"series":"90x180","value":0.13},{"lag":54,"series":"90x180","value":0.11},{"lag":55,"series":"90x180","value":0.14},{"lag":56,"series":"90x180","value":0.11},{"lag":57,"series":"90x180","value":0.09},{"lag":58,"series":"90x180","value":0.12},{"lag":59,"series":"90x180","value":0.1},{"lag":60,"series":"90x180","value":0.08},
{"lag":-60,"series":"120x360","value":0.08},{"lag":-59,"series":"120x360","value":0.06},{"lag":-58,"series":"120x360","value":0.07},{"lag":-57,"series":"120x360","value":0.09},{"lag":-56,"series":"120x360","value":0.1},{"lag":-55,"series":"120x360","value":0.1},{"lag":-54,"series":"120x360","value":0.1},{"lag":-53,"series":"120x360","value":0.1},{"lag":-52,"series":"120x360","value":0.09},{"lag":-51,"series":"120x360","value":0.08},{"lag":-50,"series":"120x360","value":0.12},{"lag":-49,"series":"120x360","value":0.11},{"lag":-48,"series":"120x360","value":0.13},{"lag":-47,"series":"120x360","value":0.13},{"lag":-46,"series":"120x360","value":0.1},{"lag":-45,"series":"120x360","value":0.07},{"lag":-44,"series":"120x360","value":0.11},{"lag":-43,"series":"120x360","value":0.1},{"lag":-42,"series":"120x360","value":0.15},{"lag":-41,"series":"120x360","value":0.14},{"lag":-40,"series":"120x360","value":0.12},{"lag":-39,"series":"120x360","value":0.1},{"lag":-38,"series":"120x360","value":0.16},{"lag":-37,"series":"120x360","value":0.12},{"lag":-36,"series":"120x360","value":0.16},{"lag":-35,"series":"120x360","value":0.14},{"lag":-34,"series":"120x360","value":0.12},{"lag":-33,"series":"120x360","value":0.13},{"lag":-32,"series":"120x360","value":0.15},{"lag":-31,"series":"120x360","value":0.14},{"lag":-30,"series":"120x360","value":0.12},{"lag":-29,"series":"120x360","value":0.1},{"lag":-28,"series":"120x360","value":0.13},{"lag":-27,"series":"120x360","value":0.18},{"lag":-26,"series":"120x360","value":0.15},{"lag":-25,"series":"120x360","value":0.11},{"lag":-24,"series":"120x360","value":0.16},{"lag":-23,"series":"120x360","value":0.17},{"lag":-22,"series":"120x360","value":0.13},{"lag":-21,"series":"120x360","value":0.18},{"lag":-20,"series":"120x360","value":0.17},{"lag":-19,"series":"120x360","value":0.14},{"lag":-18,"series":"120x360","value":0.15},{"lag":-17,"series":"120x360","value":0.16},{"lag":-16,"series":"120x360","value":0.19},{"lag":-15,"series":"120x360","value":0.22},{"lag":-14,"series":"120x360","value":0.16},{"lag":-13,"series":"120x360","value":0.13},{"lag":-12,"series":"120x360","value":0.18},{"lag":-11,"series":"120x360","value":0.1},{"lag":-10,"series":"120x360","value":0.17},{"lag":-9,"series":"120x360","value":0.24},{"lag":-8,"series":"120x360","value":0.23},{"lag":-7,"series":"120x360","value":0.16},{"lag":-6,"series":"120x360","value":0.31},{"lag":-5,"series":"120x360","value":0.22},{"lag":-4,"series":"120x360","value":0.25},{"lag":-3,"series":"120x360","value":0.3},{"lag":-2,"series":"120x360","value":0.27},{"lag":-1,"series":"120x360","value":0.3},{"lag":0,"series":"120x360","value":0.5},{"lag":1,"series":"120x360","value":0.32},{"lag":2,"series":"120x360","value":0.29},{"lag":3,"series":"120x360","value":0.29},{"lag":4,"series":"120x360","value":0.28},{"lag":5,"series":"120x360","value":0.25},{"lag":6,"series":"120x360","value":0.26},{"lag":7,"series":"120x360","value":0.22},{"lag":8,"series":"120x360","value":0.23},{"lag":9,"series":"120x360","value":0.22},{"lag":10,"series":"120x360","value":0.22},{"lag":11,"series":"120x360","value":0.23},{"lag":12,"series":"120x360","value":0.25},{"lag":13,"series":"120x360","value":0.25},{"lag":14,"series":"120x360","value":0.28},{"lag":15,"series":"120x360","value":0.22},{"lag":16,"series":"120x360","value":0.18},{"lag":17,"series":"120x360","value":0.16},{"lag":18,"series":"120x360","value":0.18},{"lag":19,"series":"120x360","value":0.18},{"lag":20,"series":"120x360","value":0.19},{"lag":21,"series":"120x360","value":0.19},{"lag":22,"series":"120x360","value":0.18},{"lag":23,"series":"120x360","value":0.18},{"lag":24,"series":"120x360","value":0.18},{"lag":25,"series":"120x360","value":0.18},{"lag":26,"series":"120x360","value":0.18},{"lag":27,"series":"120x360","value":0.17},{"lag":28,"series":"120x360","value":0.15},{"lag":29,"series":"120x360","value":0.18},{"lag":30,"series":"120x360","value":0.19},{"lag":31,"series":"120x360","value":0.17},{"lag":32,"series":"120x360","value":0.15},{"lag":33,"series":"120x360","value":0.14},{"lag":34,"series":"120x360","value":0.13},{"lag":35,"series":"120x360","value":0.14},{"lag":36,"series":"120x360","value":0.15},{"lag":37,"series":"120x360","value":0.15},{"lag":38,"series":"120x360","value":0.15},{"lag":39,"series":"120x360","value":0.15},{"lag":40,"series":"120x360","value":0.16},{"lag":41,"series":"120x360","value":0.13},{"lag":42,"series":"120x360","value":0.12},{"lag":43,"series":"120x360","value":0.14},{"lag":44,"series":"120x360","value":0.13},{"lag":45,"series":"120x360","value":0.15},{"lag":46,"series":"120x360","value":0.14},{"lag":47,"series":"120x360","value":0.16},{"lag":48,"series":"120x360","value":0.17},{"lag":49,"series":"120x360","value":0.14},{"lag":50,"series":"120x360","value":0.13},{"lag":51,"series":"120x360","value":0.13},{"lag":52,"series":"120x360","value":0.12},{"lag":53,"series":"120x360","value":0.12},{"lag":54,"series":"120x360","value":0.13},{"lag":55,"series":"120x360","value":0.11},{"lag":56,"series":"120x360","value":0.1},{"lag":57,"series":"120x360","value":0.11},{"lag":58,"series":"120x360","value":0.1},{"lag":59,"series":"120x360","value":0.09},{"lag":60,"series":"120x360","value":0.11},
{"lag":-60,"series":"180x360","value":0.08},{"lag":-59,"series":"180x360","value":0.05},{"lag":-58,"series":"180x360","value":0.07},{"lag":-57,"series":"180x360","value":0.08},{"lag":-56,"series":"180x360","value":0.09},{"lag":-55,"series":"180x360","value":0.09},{"lag":-54,"series":"180x360","value":0.09},{"lag":-53,"series":"180x360","value":0.09},{"lag":-52,"series":"180x360","value":0.08},{"lag":-51,"series":"180x360","value":0.07},{"lag":-50,"series":"180x360","value":0.11},{"lag":-49,"series":"180x360","value":0.09},{"lag":-48,"series":"180x360","value":0.11},{"lag":-47,"series":"180x360","value":0.13},{"lag":-46,"series":"180x360","value":0.09},{"lag":-45,"series":"180x360","value":0.07},{"lag":-44,"series":"180x360","value":0.09},{"lag":-43,"series":"180x360","value":0.09},{"lag":-42,"series":"180x360","value":0.13},{"lag":-41,"series":"180x360","value":0.13},{"lag":-40,"series":"180x360","value":0.11},{"lag":-39,"series":"180x360","value":0.09},{"lag":-38,"series":"180x360","value":0.15},{"lag":-37,"series":"180x360","value":0.12},{"lag":-36,"series":"180x360","value":0.15},{"lag":-35,"series":"180x360","value":0.13},{"lag":-34,"series":"180x360","value":0.11},{"lag":-33,"series":"180x360","value":0.11},{"lag":-32,"series":"180x360","value":0.14},{"lag":-31,"series":"180x360","value":0.12},{"lag":-30,"series":"180x360","value":0.12},{"lag":-29,"series":"180x360","value":0.09},{"lag":-28,"series":"180x360","value":0.12},{"lag":-27,"series":"180x360","value":0.16},{"lag":-26,"series":"180x360","value":0.13},{"lag":-25,"series":"180x360","value":0.1},{"lag":-24,"series":"180x360","value":0.15},{"lag":-23,"series":"180x360","value":0.16},{"lag":-22,"series":"180x360","value":0.12},{"lag":-21,"series":"180x360","value":0.16},{"lag":-20,"series":"180x360","value":0.15},{"lag":-19,"series":"180x360","value":0.13},{"lag":-18,"series":"180x360","value":0.14},{"lag":-17,"series":"180x360","value":0.14},{"lag":-16,"series":"180x360","value":0.17},{"lag":-15,"series":"180x360","value":0.2},{"lag":-14,"series":"180x360","value":0.15},{"lag":-13,"series":"180x360","value":0.13},{"lag":-12,"series":"180x360","value":0.17},{"lag":-11,"series":"180x360","value":0.09},{"lag":-10,"series":"180x360","value":0.15},{"lag":-9,"series":"180x360","value":0.22},{"lag":-8,"series":"180x360","value":0.21},{"lag":-7,"series":"180x360","value":0.14},{"lag":-6,"series":"180x360","value":0.28},{"lag":-5,"series":"180x360","value":0.21},{"lag":-4,"series":"180x360","value":0.24},{"lag":-3,"series":"180x360","value":0.28},{"lag":-2,"series":"180x360","value":0.25},{"lag":-1,"series":"180x360","value":0.28},{"lag":0,"series":"180x360","value":0.6},{"lag":1,"series":"180x360","value":0.3},{"lag":2,"series":"180x360","value":0.26},{"lag":3,"series":"180x360","value":0.26},{"lag":4,"series":"180x360","value":0.26},{"lag":5,"series":"180x360","value":0.23},{"lag":6,"series":"180x360","value":0.24},{"lag":7,"series":"180x360","value":0.2},{"lag":8,"series":"180x360","value":0.2},{"lag":9,"series":"180x360","value":0.2},{"lag":10,"series":"180x360","value":0.2},{"lag":11,"series":"180x360","value":0.2},{"lag":12,"series":"180x360","value":0.23},{"lag":13,"series":"180x360","value":0.22},{"lag":14,"series":"180x360","value":0.25},{"lag":15,"series":"180x360","value":0.2},{"lag":16,"series":"180x360","value":0.16},{"lag":17,"series":"180x360","value":0.15},{"lag":18,"series":"180x360","value":0.16},{"lag":19,"series":"180x360","value":0.16},{"lag":20,"series":"180x360","value":0.17},{"lag":21,"series":"180x360","value":0.18},{"lag":22,"series":"180x360","value":0.17},{"lag":23,"series":"180x360","value":0.16},{"lag":24,"series":"180x360","value":0.16},{"lag":25,"series":"180x360","value":0.16},{"lag":26,"series":"180x360","value":0.16},{"lag":27,"series":"180x360","value":0.16},{"lag":28,"series":"180x360","value":0.13},{"lag":29,"series":"180x360","value":0.16},{"lag":30,"series":"180x360","value":0.18},{"lag":31,"series":"180x360","value":0.16},{"lag":32,"series":"180x360","value":0.14},{"lag":33,"series":"180x360","value":0.13},{"lag":34,"series":"180x360","value":0.11},{"lag":35,"series":"180x360","value":0.13},{"lag":36,"series":"180x360","value":0.13},{"lag":37,"series":"180x360","value":0.14},{"lag":38,"series":"180x360","value":0.14},{"lag":39,"series":"180x360","value":0.14},{"lag":40,"series":"180x360","value":0.14},{"lag":41,"series":"180x360","value":0.11},{"lag":42,"series":"180x360","value":0.12},{"lag":43,"series":"180x360","value":0.12},{"lag":44,"series":"180x360","value":0.13},{"lag":45,"series":"180x360","value":0.13},{"lag":46,"series":"180x360","value":0.13},{"lag":47,"series":"180x360","value":0.14},{"lag":48,"series":"180x360","value":0.16},{"lag":49,"series":"180x360","value":0.13},{"lag":50,"series":"180x360","value":0.12},{"lag":51,"series":"180x360","value":0.11},{"lag":52,"series":"180x360","value":0.11},{"lag":53,"series":"180x360","value":0.1},{"lag":54,"series":"180x360","value":0.11},{"lag":55,"series":"180x360","value":0.09},{"lag":56,"series":"180x360","value":0.09},{"lag":57,"series":"180x360","value":0.1},{"lag":58,"series":"180x360","value":0.09},{"lag":59,"series":"180x360","value":0.08},{"lag":60,"series":"180x360","value":0.1},
{"lag":-31,"series":"180x2520","value":0.1},{"lag":-30,"series":"180x2520","value":0.05},{"lag":-29,"series":"180x2520","value":0.03},{"lag":-28,"series":"180x2520","value":0.03},{"lag":-27,"series":"180x2520","value":0.03},{"lag":-26,"series":"180x2520","value":0.03},{"lag":-25,"series":"180x2520","value":0.03},{"lag":-24,"series":"180x2520","value":0.02},{"lag":-23,"series":"180x2520","value":0.02},{"lag":-22,"series":"180x2520","value":0.02},{"lag":-21,"series":"180x2520","value":0.02},{"lag":-20,"series":"180x2520","value":0.02},{"lag":-19,"series":"180x2520","value":0.03},{"lag":-18,"series":"180x2520","value":0.03},{"lag":-17,"series":"180x2520","value":0.04},{"lag":-16,"series":"180x2520","value":0.05},{"lag":-15,"series":"180x2520","value":0.08},{"lag":-14,"series":"180x2520","value":0.1},{"lag":-13,"series":"180x2520","value":0.12},{"lag":-12,"series":"180x2520","value":0.15},{"lag":-11,"series":"180x2520","value":0.17},{"lag":-10,"series":"180x2520","value":0.2},{"lag":-9,"series":"180x2520","value":0.23},{"lag":-8,"series":"180x2520","value":0.27},{"lag":-7,"series":"180x2520","value":0.3},{"lag":-6,"series":"180x2520","value":0.35},{"lag":-5,"series":"180x2520","value":0.42},{"lag":-4,"series":"180x2520","value":0.5},{"lag":-3,"series":"180x2520","value":0.58},{"lag":-2,"series":"180x2520","value":0.8},{"lag":-1,"series":"180x2520","value":0.8},{"lag":0,"series":"180x2520","value":0.8},{"lag":1,"series":"180x2520","value":0.8},{"lag":2,"series":"180x2520","value":0.55},{"lag":3,"series":"180x2520","value":0.5},{"lag":4,"series":"180x2520","value":0.45},{"lag":5,"series":"180x2520","value":0.4},{"lag":6,"series":"180x2520","value":0.38},{"lag":7,"series":"180x2520","value":0.33},{"lag":8,"series":"180x2520","value":0.28},{"lag":9,"series":"180x2520","value":0.25},{"lag":10,"series":"180x2520","value":0.2},{"lag":11,"series":"180x2520","value":0.18},{"lag":12,"series":"180x2520","value":0.16},{"lag":13,"series":"180x2520","value":0.14},{"lag":14,"series":"180x2520","value":0.12},{"lag":15,"series":"180x2520","value":0.1},{"lag":16,"series":"180x2520","value":0.07},{"lag":17,"series":"180x2520","value":0.05},{"lag":18,"series":"180x2520","value":0.04},{"lag":19,"series":"180x2520","value":0.03},{"lag":20,"series":"180x2520","value":0.02},{"lag":21,"series":"180x2520","value":0.02},{"lag":22,"series":"180x2520","value":0.02},{"lag":23,"series":"180x2520","value":0.02},{"lag":24,"series":"180x2520","value":0.02},{"lag":25,"series":"180x2520","value":0.04},{"lag":26,"series":"180x2520","value":0.05},{"lag":27,"series":"180x2520","value":0.06},{"lag":28,"series":"180x2520","value":0.06},{"lag":29,"series":"180x2520","value":0.08},{"lag":30,"series":"180x2520","value":0.1},{"lag":31,"series":"180x2520","value":0.08},
{"lag":-31,"series":"360x2520","value":0.05},{"lag":-30,"series":"360x2520","value":0.03},{"lag":-29,"series":"360x2520","value":0.02},{"lag":-28,"series":"360x2520","value":0.02},{"lag":-27,"series":"360x2520","value":0.02},{"lag":-26,"series":"360x2520","value":0.02},{"lag":-25,"series":"360x2520","value":0.02},{"lag":-24,"series":"360x2520","value":0.02},{"lag":-23,"series":"360x2520","value":0.02},{"lag":-22,"series":"360x2520","value":0.02},{"lag":-21,"series":"360x2520","value":0.02},{"lag":-20,"series":"360x2520","value":0.03},{"lag":-19,"series":"360x2520","value":0.03},{"lag":-18,"series":"360x2520","value":0.03},{"lag":-17,"series":"360x2520","value":0.03},{"lag":-16,"series":"360x2520","value":0.03},{"lag":-15,"series":"360x2520","value":0.05},{"lag":-14,"series":"360x2520","value":0.06},{"lag":-13,"series":"360x2520","value":0.07},{"lag":-12,"series":"360x2520","value":0.08},{"lag":-11,"series":"360x2520","value":0.08},{"lag":-10,"series":"360x2520","value":0.1},{"lag":-9,"series":"360x2520","value":0.12},{"lag":-8,"series":"360x2520","value":0.13},{"lag":-7,"series":"360x2520","value":0.14},{"lag":-6,"series":"360x2520","value":0.15},{"lag":-5,"series":"360x2520","value":0.15},{"lag":-4,"series":"360x2520","value":0.15},{"lag":-3,"series":"360x2520","value":0.15},{"lag":-2,"series":"360x2520","value":0.15},{"lag":-1,"series":"360x2520","value":0.15},{"lag":0,"series":"360x2520","value":0.75},{"lag":1,"series":"360x2520","value":0.3},{"lag":2,"series":"360x2520","value":0.3},{"lag":3,"series":"360x2520","value":0.3},{"lag":4,"series":"360x2520","value":0.4},{"lag":5,"series":"360x2520","value":0.25},{"lag":6,"series":"360x2520","value":0.3},{"lag":7,"series":"360x2520","value":0.2},{"lag":8,"series":"360x2520","value":0.15},{"lag":9,"series":"360x2520","value":0.12},{"lag":10,"series":"360x2520","value":0.1},{"lag":11,"series":"360x2520","value":0.1},{"lag":12,"series":"360x2520","value":0.08},{"lag":13,"series":"360x2520","value":0.07},{"lag":14,"series":"360x2520","value":0.08},{"lag":15,"series":"360x2520","value":0.05},{"lag":16,"series":"360x2520","value":0.04},{"lag":17,"series":"360x2520","value":0.03},{"lag":18,"series":"360x2520","value":0.02},{"lag":19,"series":"360x2520","value":0.02},{"lag":20,"series":"360x2520","value":0.02},{"lag":21,"series":"360x2520","value":0.02},{"lag":22,"series":"360x2520","value":0.02},{"lag":23,"series":"360x2520","value":0.02},{"lag":24,"series":"360x2520","value":0.03},{"lag":25,"series":"360x2520","value":0.06},{"lag":26,"series":"360x2520","value":0.08},{"lag":27,"series":"360x2520","value":0.08},{"lag":28,"series":"360x2520","value":0.05},{"lag":29,"series":"360x2520","value":0.07},{"lag":30,"series":"360x2520","value":0.1},{"lag":31,"series":"360x2520","value":0.04}
]},
"layer": [
{
"data": {"name": "acf"},
"transform": [{"lookup": "series", "from": {"data": {"name": "ranks"}, "key": "series", "fields": ["rank"]}}],
"mark": {"type": "area", "opacity": 1, "strokeWidth": 0.6, "interpolate": "linear"},
"encoding": {
"x": {"field": "lag", "type": "quantitative", "scale": {"domain": [-60, 60], "nice": false, "zero": false},
 "axis": {"values": [-60,-50,-40,-30,-20,-10,0,10,20,30,40,50,60], "labelExpr": "datum.value % 20 === 0 ? '' + datum.value : ''", "title": "Lag", "titleFontSize": 24, "titleFont": "Liberation Sans", "titleFontWeight": "normal", "titleColor": "#222", "titlePadding": 15, "labelFontSize": 19, "labelFont": "Liberation Sans", "labelColor": "#222", "labelPadding": 7, "labelFlush": false, "labelOverlap": false, "tickSize": 8, "tickWidth": 1.5, "tickColor": "#333", "domainColor": "#333", "domainWidth": 1.5, "grid": false}},
"y": {"field": "value", "type": "quantitative", "stack": "zero", "scale": {"domain": [-0.13, 7.5], "nice": false, "zero": false},
 "axis": {"values": [0,0.5,1,1.5,2,2.5,3,3.5,4,4.5,5,5.5,6,6.5,7], "labelExpr": "datum.value % 1 === 0 ? '' + datum.value : ''", "title": null, "labelFontSize": 19, "labelFont": "Liberation Sans", "labelColor": "#222", "labelPadding": 7, "labelOverlap": false, "tickSize": 10, "tickWidth": 1.5, "tickColor": "#333", "domainColor": "#333", "domainWidth": 1.5, "grid": false}},
"order": {"field": "rank", "type": "quantitative", "sort": "ascending"},
"color": {"field": "series", "type": "nominal",
 "scale": {"domain": ["30x60","30x90","30x120","30x180","30x360","60x120","60x180","90x180","120x360","180x360","180x2520","360x2520"],
 "range": ["#000000","#ff0000","#0000ff","#008080","#ff00ff","#808000","#000080","#800000","#ff0080","#008000","#0000a0","#ff8000"]},
 "legend": {"orient": "none", "legendX": 526, "legendY": -57, "title": null, "symbolType": "M-2,-0.75H2V0.75H-2Z", "symbolSize": 702, "symbolStrokeWidth": 0, "symbolOpacity": 1, "labelFontSize": 23, "labelFont": "Liberation Sans", "labelColor": "#111", "padding": 9, "rowPadding": 3, "labelOffset": 21, "symbolOffset": 14, "strokeColor": "#9a9a9a", "fillColor": "white", "labelLimit": 300}},
"stroke": {"field": "series", "type": "nominal",
 "scale": {"domain": ["30x60","30x90","30x120","30x180","30x360","60x120","60x180","90x180","120x360","180x360","180x2520","360x2520"],
 "range": ["#000000","#ff0000","#0000ff","#008080","#ff00ff","#808000","#000080","#800000","#ff0080","#008000","#0000a0","#ff8000"]},
 "legend": null}
}
},
{
"data": {"values": [{}]},
"mark": {"type": "rect", "color": "#000000"},
"encoding": {"x": {"datum": -60, "type": "quantitative"}, "x2": {"datum": 60}, "y": {"datum": 0, "type": "quantitative"}, "y2": {"datum": -0.13}}
}
]
}
